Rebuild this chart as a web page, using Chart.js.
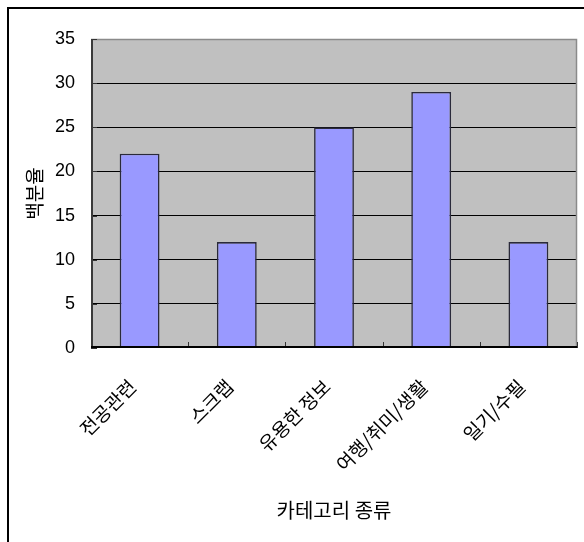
<!DOCTYPE html>
<html>
<head>
<meta charset="utf-8">
<script src="https://cdn.jsdelivr.net/npm/chart.js@4"></script>
<style>
  html, body { margin: 0; padding: 0; background: #fff; }
  #wrap { position: relative; width: 584px; height: 542px; overflow: hidden; }
  #frame { position: absolute; left: 7px; top: 7px; width: 700px; height: 700px;
           border-left: 2px solid #000; border-top: 2px solid #000; }
  canvas { position: absolute; left: 0; top: 0; }
</style>
</head>
<body>
<div id="wrap">
  <div id="frame"></div>
  <canvas id="c" width="584" height="542"></canvas>
</div>
<script>
const categories = ['전공관련', '스크랩', '유용한 정보', '여행/취미/생활', '일기/수필'];
const percentages = [22, 12, 25, 29, 12];
const yTicks = [0, 5, 10, 15, 20, 25, 30, 35];

const KR = '"Noto Sans CJK KR", "Noto Sans", sans-serif';
const NUM = '"Liberation Sans", Arial, sans-serif';

// grey plot background, grey top/right border and short inward tick marks
const plotFrame = {
  id: 'plotFrame',
  beforeDraw(chart) {
    const { ctx, chartArea: a } = chart;
    ctx.save();
    ctx.fillStyle = '#c0c0c0';
    ctx.fillRect(a.left, a.top, a.right - a.left, a.bottom - a.top);
    ctx.restore();
  },
  afterDraw(chart) {
    const { ctx, chartArea: a, scales } = chart;
    ctx.save();
    ctx.strokeStyle = '#8a8a8a';
    ctx.lineWidth = 1.5;
    ctx.beginPath();
    ctx.moveTo(a.left, a.top + 0.5);
    ctx.lineTo(a.right - 0.5, a.top + 0.5);
    ctx.lineTo(a.right - 0.5, a.bottom);
    ctx.stroke();
    // y tick marks pointing into the plot
    ctx.strokeStyle = '#333';
    ctx.lineWidth = 1;
    ctx.beginPath();
    yTicks.forEach(v => {
      const y = Math.round(scales.y.getPixelForValue(v)) + 0.5;
      ctx.moveTo(a.left, y);
      ctx.lineTo(a.left + 6, y);
    });
    // x tick marks at category boundaries
    const xs = scales.x;
    for (let i = 0; i <= categories.length; i++) {
      const x = Math.round(xs.getPixelForValue(i - 0.5)) + 0.5;
      ctx.moveTo(x, a.bottom);
      ctx.lineTo(x, a.bottom - 6);
    }
    ctx.stroke();
    // axis lines
    ctx.strokeStyle = '#3a3a3a';
    ctx.lineWidth = 2;
    ctx.beginPath();
    ctx.moveTo(a.left + 1, a.top);
    ctx.lineTo(a.left + 1, a.bottom);
    ctx.stroke();
    ctx.strokeStyle = '#000';
    ctx.beginPath();
    ctx.moveTo(a.left, a.bottom - 1);
    ctx.lineTo(a.right, a.bottom - 1);
    ctx.stroke();
    ctx.restore();
  }
};

new Chart(document.getElementById('c'), {
  type: 'bar',
  data: {
    labels: categories,
    datasets: [{
      data: percentages,
      backgroundColor: '#9999ff',
      borderColor: '#2a2a3a',
      borderWidth: 1.6,
      barPercentage: 0.41,
      categoryPercentage: 1
    }]
  },
  plugins: [plotFrame],
  options: {
    responsive: false,
    animation: false,
    events: [],
    layout: { padding: { top: 39, right: 7, left: 0, bottom: 0 } },
    plugins: { legend: { display: false }, tooltip: { enabled: false } },
    scales: {
      x: {
        grid: { display: false, drawTicks: false },
        border: { display: false },
        ticks: {
          autoSkip: false,
          minRotation: 45,
          maxRotation: 45,
          padding: 27,
          labelOffset: -7,
          color: '#000',
          font: { family: KR, size: 19 }
        },
        title: {
          display: true,
          text: '카테고리 종류',
          color: '#000',
          font: { family: KR, size: 20 },
          padding: { top: 0, bottom: 20 }
        },
        afterFit(s) { s.height = 194; }
      },
      y: {
        min: 0,
        max: 35,
        afterBuildTicks(s) { s.ticks = yTicks.map(v => ({ value: v })); },
        grid: {
          color: ctx => (ctx.tick && (ctx.tick.value === 0 || ctx.tick.value === 35)) ? 'rgba(0,0,0,0)' : '#000',
          lineWidth: 1,
          drawTicks: false
        },
        border: { display: false },
        ticks: {
          padding: 16,
          color: '#000',
          font: { family: NUM, size: 18 }
        },
        title: {
          display: true,
          text: '백분율',
          color: '#000',
          font: { family: KR, size: 19 },
          padding: { top: 23, bottom: 0 }
        },
        afterFit(s) { s.width = 91; }
      }
    }
  }
});
</script>
</body>
</html>
